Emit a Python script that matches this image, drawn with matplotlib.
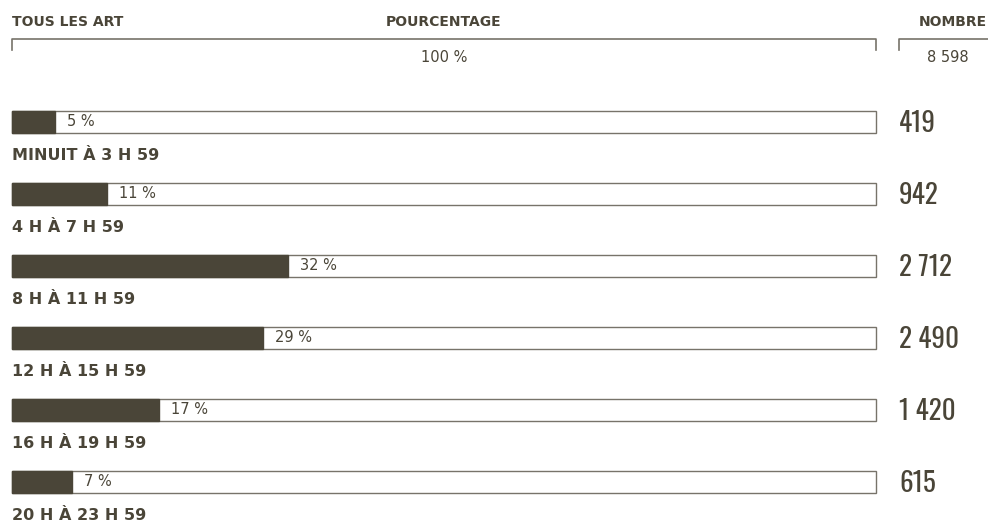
import matplotlib
matplotlib.use("Agg")
import matplotlib.pyplot as plt
from matplotlib import font_manager as fm

categories = ["MINUIT À 3 H 59", "4 H À 7 H 59", "8 H À 11 H 59",
              "12 H À 15 H 59", "16 H À 19 H 59", "20 H À 23 H 59"]
percents = [5, 11, 32, 29, 17, 7]
counts = ["419", "942", "2 712", "2 490", "1 420", "615"]
total_label = "8 598"

dark = "#4a4538"
edge = "#77736a"

installed = {f.name for f in fm.fontManager.ttflist}
narrow = "DejaVu Sans"
for name in ["Oswald", "Bebas Neue", "Fjalla One", "Antonio", "League Gothic",
             "Liberation Sans Narrow", "Roboto Condensed", "DejaVu Sans Condensed"]:
    if name in installed:
        narrow = name
        break
main_font = "DejaVu Sans"

fig = plt.figure(figsize=(9.88, 5.23), dpi=100)
ax = fig.add_axes([0, 0, 1, 1])
ax.set_xlim(0, 988)
ax.set_ylim(523, 0)
ax.axis("off")

x0, full = 12, 864
y_first, step, h = 122, 72, 22

# header
for x, txt, ha in [(x0, "TOUS LES ART", "left"),
                   (x0 + full / 2, "POURCENTAGE", "center"),
                   (987, "NOMBRE", "right")]:
    ax.text(x, 22.5, txt, fontsize=10, fontweight="bold", color=dark,
            family=main_font, va="center", ha=ha)
ax.plot([x0, x0, x0 + full, x0 + full], [50, 39, 39, 50], color=edge, lw=1.2)
ax.plot([899, 899, 990], [50, 39, 39], color=edge, lw=1.2)
ax.text(x0 + full / 2, 58, "100 %", fontsize=10.5, color=dark, family=main_font,
        va="center", ha="center")
ax.text(948, 58, total_label, fontsize=10.5, color=dark, family=main_font,
        va="center", ha="center")

for i, (cat, p, n) in enumerate(zip(categories, percents, counts)):
    y = y_first + step * i
    ax.barh(y, full, left=x0, height=h, color="white", edgecolor=edge, lw=1)
    ax.barh(y, full * p / 100, left=x0, height=h, color=dark, edgecolor=dark, lw=1)
    ax.text(x0 + full * p / 100 + 12, y, f"{p} %", fontsize=10.5, color=dark,
            family=main_font, va="center", ha="left")
    ax.text(x0, y + 34, cat, fontsize=11.5, fontweight="bold", color=dark,
            family=main_font, va="center", ha="left")
    ax.text(899, y + 2, n, fontsize=19.5, fontweight="semibold", color=dark,
            family=narrow, va="center", ha="left")

fig.savefig("out.png", dpi=100)
